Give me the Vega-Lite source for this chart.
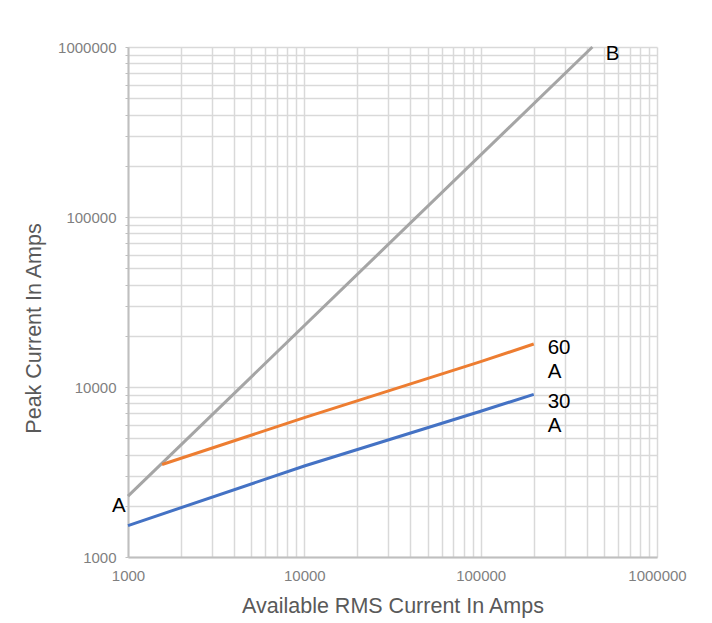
{
  "$schema": "https://vega.github.io/schema/vega-lite/v6.json",
  "width": 529,
  "height": 510,
  "autosize": "none",
  "padding": {"left": 128, "top": 47, "right": 55, "bottom": 66},
  "background": "white",
  "config": {
    "font": "Liberation Sans",
    "view": {"stroke": null},
    "axis": {
      "gridColor": "#d9d9d9",
      "gridWidth": 1.5,
      "domainColor": "#bfbfbf",
      "domainWidth": 2,
      "tickColor": "#bfbfbf",
      "labelColor": "#7f7f7f",
      "labelFontSize": 15,
      "labelFont": "Liberation Sans",
      "titleColor": "#595959",
      "titleFontSize": 21.5,
      "titleFontWeight": "normal",
      "titleFont": "Liberation Sans",
      "labelOverlap": false,
      "labelFlush": false
    }
  },
  "datasets": {
    "lines": [
      {"series": "B", "rms": 1000, "peak": 2280},
      {"series": "B", "rms": 430000, "peak": 1000000},
      {"series": "60 A", "rms": 1560, "peak": 3500},
      {"series": "60 A", "rms": 10000, "peak": 6600},
      {"series": "60 A", "rms": 100000, "peak": 14100},
      {"series": "60 A", "rms": 200000, "peak": 17900},
      {"series": "30 A", "rms": 1000, "peak": 1530},
      {"series": "30 A", "rms": 10000, "peak": 3430},
      {"series": "30 A", "rms": 100000, "peak": 7200},
      {"series": "30 A", "rms": 200000, "peak": 9050}
    ],
    "labels": [
      {"text": ["60", "A"], "rms": 240000, "peak": 15700, "side": "right"},
      {"text": ["30", "A"], "rms": 240000, "peak": 7570, "side": "right"},
      {"text": ["B"], "rms": 512000, "peak": 836000, "side": "right"},
      {"text": ["A"], "rms": 970, "peak": 1830, "side": "left"}
    ]
  },
  "layer": [
    {
      "data": {"name": "lines"},
      "mark": {"type": "line", "strokeWidth": 3, "clip": false},
      "encoding": {
        "x": {
          "field": "rms", "type": "quantitative",
          "scale": {"type": "log", "domain": [1000, 1000000], "nice": false},
          "axis": {
            "title": "Available RMS Current In Amps",
            "values": [1000,2000,3000,4000,5000,6000,7000,8000,9000,10000,20000,30000,40000,50000,60000,70000,80000,90000,100000,200000,300000,400000,500000,600000,700000,800000,900000,1000000],
            "format": "d",
            "labelExpr": "indexof(['1000','10000','100000','1000000'], datum.label) >= 0 ? datum.label : ''",
            "ticks": false,
            "labelPadding": 11,
            "titleY": 49,
            "titleBaseline": "middle"
          }
        },
        "y": {
          "field": "peak", "type": "quantitative",
          "scale": {"type": "log", "domain": [1000, 1000000], "nice": false},
          "axis": {
            "title": "Peak Current In Amps",
            "values": [1000,2000,3000,4000,5000,6000,7000,8000,9000,10000,20000,30000,40000,50000,60000,70000,80000,90000,100000,200000,300000,400000,500000,600000,700000,800000,900000,1000000],
            "format": "d",
            "labelExpr": "indexof(['1000','10000','100000','1000000'], datum.label) >= 0 ? datum.label : ''",
            "ticks": true,
            "tickSize": 3,
            "labelPadding": 9,
            "titleX": -94,
            "titleY": 281,
            "titleBaseline": "middle",
            "titleAlign": "center"
          }
        },
        "color": {
          "field": "series", "type": "nominal",
          "scale": {"domain": ["B", "60 A", "30 A"], "range": ["#a5a5a5", "#ed7d31", "#4472c4"]},
          "legend": null
        }
      }
    },
    {
      "data": {"name": "labels"},
      "transform": [{"filter": "datum.side == 'right'"}],
      "mark": {"type": "text", "align": "left", "baseline": "alphabetic", "fontSize": 20.5, "lineHeight": 24, "color": "#000000", "font": "Liberation Sans"},
      "encoding": {
        "x": {"field": "rms", "type": "quantitative"},
        "y": {"field": "peak", "type": "quantitative"},
        "text": {"field": "text"}
      }
    },
    {
      "data": {"name": "labels"},
      "transform": [{"filter": "datum.side == 'left'"}],
      "mark": {"type": "text", "align": "right", "baseline": "alphabetic", "fontSize": 20.5, "color": "#000000", "font": "Liberation Sans"},
      "encoding": {
        "x": {"field": "rms", "type": "quantitative"},
        "y": {"field": "peak", "type": "quantitative"},
        "text": {"field": "text"}
      }
    }
  ]
}
